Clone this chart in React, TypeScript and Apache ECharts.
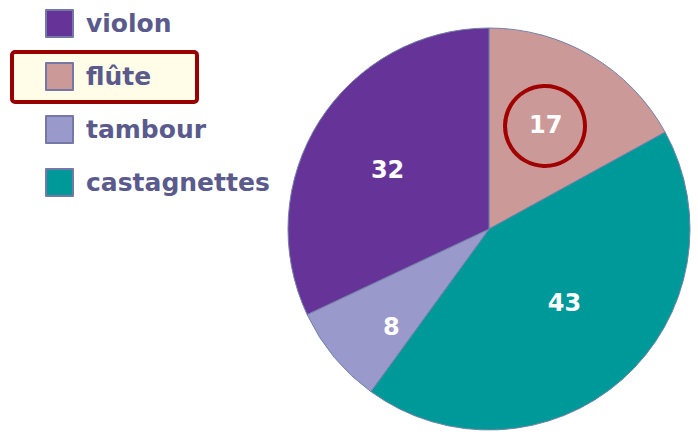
import React, { useEffect, useRef } from "react";
import * as echarts from "echarts";

const categories = ["flûte", "castagnettes", "tambour", "violon"];
const values = [17, 43, 8, 32];
const legendOrder = ["violon", "flûte", "tambour", "castagnettes"];
const colors: Record<string, string> = {
  "flûte": "#cc9999",
  castagnettes: "#009999",
  tambour: "#9999cc",
  violon: "#663399",
};
const labelOffsets: Record<string, number[]> = {
  "flûte": [4, -15],
  castagnettes: [7, -4],
  tambour: [-18, 32],
  violon: [-14, -4],
};

export default function App() {
  const ref = useRef<HTMLDivElement>(null);
  useEffect(() => {
    document.body.style.margin = "0";
    const chart = echarts.init(ref.current!, undefined, { renderer: "svg" });
    const font = "DejaVu Sans";
    chart.setOption({
      animation: false,
      backgroundColor: "#ffffff",
      legend: {
        orient: "vertical",
        left: 45,
        top: 9,
        padding: 0,
        z: 5,
        itemWidth: 27,
        itemHeight: 27,
        itemGap: 24,
        icon: "rect",
        data: legendOrder,
        selectedMode: false,
        itemStyle: { borderColor: "#7478a6", borderWidth: 2 },
        textStyle: {
          fontFamily: font,
          fontWeight: "bold",
          fontSize: 25,
          lineHeight: 27,
          color: "#5a5a8c",
          padding: [0, 0, 0, 8],
        },
      },
      graphic: [
        {
          type: "rect",
          z: 0,
          shape: { x: 12, y: 52, width: 185, height: 50, r: 3 },
          style: { fill: "#fffde8", stroke: "#990000", lineWidth: 4 },
        },
        {
          type: "circle",
          z: 10,
          shape: { cx: 545, cy: 126, r: 40 },
          style: { fill: "none", stroke: "#a00000", lineWidth: 4 },
        },
      ],
      series: [
        {
          type: "pie",
          center: [489, 229],
          radius: 201,
          startAngle: 90,
          clockwise: true,
          z: 2,
          emphasis: { disabled: true },
          itemStyle: { borderColor: "#7382a8", borderWidth: 1 },
          label: {
            show: true,
            position: "inside",
            formatter: "{c}",
            color: "#ffffff",
            fontFamily: font,
            fontWeight: "bold",
            fontSize: 24,
          },
          labelLine: { show: false },
          data: categories.map((name, i) => ({
            name,
            value: values[i],
            itemStyle: { color: colors[name] },
            label: { offset: labelOffsets[name] },
          })),
        },
      ],
    });
    return () => chart.dispose();
  }, []);
  return (
    <div
      ref={ref}
      style={{ position: "absolute", left: 0, top: 0, width: 698, height: 437 }}
    />
  );
}
